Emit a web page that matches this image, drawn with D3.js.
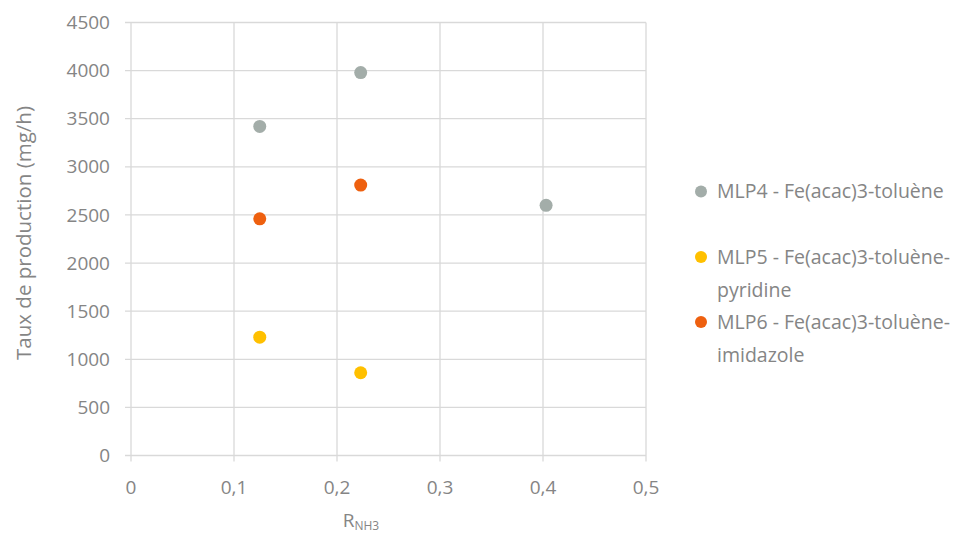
<!DOCTYPE html>
<html><head><meta charset="utf-8">
<script src="https://cdn.jsdelivr.net/npm/d3@7"></script>
<style>body{margin:0;background:#fff}svg{display:block}text{font-family:"Open Sans",sans-serif}</style>
</head><body><svg id="c" width="964" height="534"></svg>
<script>
const seriesNames = ["MLP4 - Fe(acac)3-toluène", "MLP5 - Fe(acac)3-toluène-pyridine", "MLP6 - Fe(acac)3-toluène-imidazole"];
const seriesColors = ["#A3ADA9", "#FFC000", "#EE600F"];
const mlp4X = [0.125, 0.223, 0.403];
const mlp4Y = [3420, 3980, 2600];
const mlp5X = [0.125, 0.223];
const mlp5Y = [1230, 860];
const mlp6X = [0.125, 0.223];
const mlp6Y = [2460, 2810];
const xTicks = [0, 0.1, 0.2, 0.3, 0.4, 0.5];
const yTicks = [0, 500, 1000, 1500, 2000, 2500, 3000, 3500, 4000, 4500];
const legendLines = [["MLP4 - Fe(acac)3-toluène"], ["MLP5 - Fe(acac)3-toluène-", "pyridine"], ["MLP6 - Fe(acac)3-toluène-", "imidazole"]];

const series = [
  {x: mlp4X, y: mlp4Y}, {x: mlp5X, y: mlp5Y}, {x: mlp6X, y: mlp6Y}
];

const svg = d3.select("#c");
const x = d3.scaleLinear().domain([0, 0.5]).range([131, 646]);
const y = d3.scaleLinear().domain([0, 4500]).range([455.5, 22.5]);
const textCol = "#858585";
const fs = 19;

// grid
svg.append("g").selectAll("line.h").data(yTicks).join("line")
  .attr("x1", x(0) - 6).attr("x2", x(0.5)).attr("y1", d => y(d)).attr("y2", d => y(d))
  .attr("stroke", "#d9d9d9").attr("stroke-width", 1.3);
svg.append("g").selectAll("line.v").data(xTicks).join("line")
  .attr("y1", y(4500)).attr("y2", y(0) + 6).attr("x1", d => x(d)).attr("x2", d => x(d))
  .attr("stroke", "#d9d9d9").attr("stroke-width", 1.3);

// axes labels
const fmt = d => String(d).replace(".", ",");
svg.append("g").selectAll("text").data(yTicks).join("text")
  .attr("x", 110).attr("y", d => y(d)).attr("dy", "0.35em").attr("text-anchor", "end")
  .attr("font-size", fs).attr("fill", textCol).text(d => d);
svg.append("g").selectAll("text").data(xTicks).join("text")
  .attr("x", d => x(d)).attr("y", 487).attr("dy", "0.35em").attr("text-anchor", "middle")
  .attr("font-size", fs).attr("fill", textCol).text(fmt);

// axis titles
svg.append("text").attr("transform", "translate(31,233) rotate(-90)").attr("text-anchor", "middle")
  .attr("font-size", 20.5).attr("fill", textCol).text("Taux de production (mg/h)");
const xt = svg.append("text").attr("x", 361).attr("y", 527).attr("text-anchor", "middle")
  .attr("font-size", fs).attr("fill", textCol);
xt.append("tspan").text("R");
xt.append("tspan").attr("font-size", 12).attr("dy", 3).text("NH3");

// points
series.forEach((s, i) => {
  svg.append("g").selectAll("circle").data(s.x.map((v, j) => [v, s.y[j]])).join("circle")
    .attr("cx", d => x(d[0])).attr("cy", d => y(d[1])).attr("r", 6.5)
    .attr("fill", seriesColors[i]);
});

// legend
const legY = [191.5, 257, 322];
legendLines.forEach((lines, i) => {
  svg.append("circle").attr("cx", 701).attr("cy", legY[i]).attr("r", 6).attr("fill", seriesColors[i]);
  const t = svg.append("text").attr("x", 717).attr("y", legY[i])
    .attr("font-size", 19.5).attr("fill", textCol);
  lines.forEach((l, k) => t.append("tspan").attr("x", 717).attr("dy", k === 0 ? "0.35em" : 33).text(l));
});
</script></body></html>
